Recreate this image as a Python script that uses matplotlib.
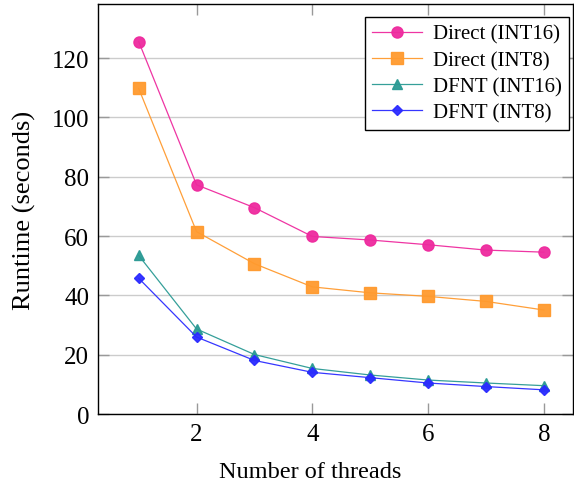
import matplotlib.pyplot as plt

# runtime (s) vs number of threads
threads = [1, 2, 3, 4, 5, 6, 7, 8]
direct_int16 = [125.6, 77.3, 69.6, 59.9, 58.7, 57.1, 55.3, 54.6]
direct_int8 = [109.8, 61.5, 50.7, 42.9, 40.9, 39.7, 38.0, 35.1]
dfnt_int16 = [53.5, 28.7, 20.1, 15.4, 13.2, 11.5, 10.5, 9.6]
dfnt_int8 = [45.8, 26.0, 18.1, 14.1, 12.3, 10.5, 9.3, 8.2]

plt.rcParams['font.family'] = ['Liberation Serif', 'DejaVu Serif']
plt.rcParams['mathtext.fontset'] = 'stix'

fig = plt.figure(figsize=(5.74, 4.85), dpi=100)
ax = fig.add_axes([0.171, 0.144, 0.827, 0.846])

series = [
    (direct_int16, 'Direct (INT16)', '#ee2a9e', 'o', 8),
    (direct_int8, 'Direct (INT8)', '#ff9a2e', 's', 8),
    (dfnt_int16, 'DFNT (INT16)', '#2a9a94', '^', 7.5),
    (dfnt_int8, 'DFNT (INT8)', '#2b2bff', 'D', 5.5),
]
for vals, lab, col, mk, ms in series:
    ax.plot(threads, vals, color=col, lw=0.9, marker=mk, markersize=ms,
            markerfacecolor=col, markeredgecolor=col, alpha=0.95, label=lab, zorder=3)

ax.set_xlim(0.3, 8.5)
ax.set_ylim(0, 138.3)
ax.set_xticks([2, 4, 6, 8])
ax.set_yticks([0, 20, 40, 60, 80, 100, 120])
ax.yaxis.grid(True, color='#cccccc', lw=1)
ax.set_axisbelow(True)
ax.tick_params(direction='in', length=8, width=1, color='#999999',
               top=True, right=True, labelsize=18, pad=6.5)
for s in ax.spines.values():
    s.set_linewidth(1)

ax.set_xlabel('Number of threads', fontsize=17.5)
ax.xaxis.set_label_coords(0.446, -0.115)
ax.set_ylabel('Runtime (seconds)', fontsize=19, labelpad=11)

leg = ax.legend(loc='upper right', bbox_to_anchor=(0.9916, 0.968), fontsize=15,
                fancybox=False, edgecolor='black', framealpha=1,
                handlelength=2.4, borderpad=0.35, labelspacing=0.32,
                handletextpad=0.5, borderaxespad=0)
leg.get_frame().set_linewidth(1)

plt.savefig('out.png', dpi=100)
